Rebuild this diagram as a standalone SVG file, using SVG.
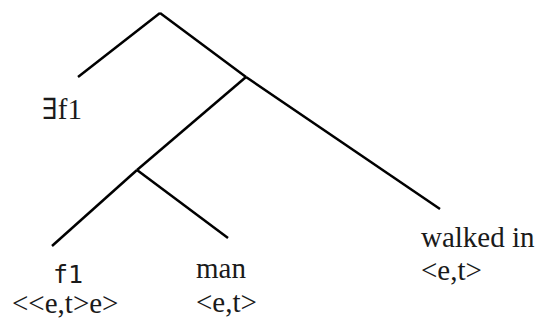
<svg xmlns="http://www.w3.org/2000/svg" width="536" height="320" viewBox="0 0 536 320">
<style>
.e{stroke:#000;stroke-width:2.5;stroke-linecap:butt;fill:none}
.t{font-family:"Liberation Serif","Times New Roman",serif;font-size:29px;fill:#1a1a1a}
.m{font-family:"DejaVu Sans Mono",monospace;font-size:25px;fill:#1a1a1a}
.x{font-family:"DejaVu Serif",serif;font-size:29px}
</style>
<rect width="536" height="320" fill="#fff"/>
<g id="connectors">
<line class="e" x1="160" y1="13" x2="78" y2="77"/>
<line class="e" x1="160" y1="13" x2="246" y2="77"/>
<line class="e" x1="246" y1="77" x2="440" y2="209"/>
<line class="e" x1="246" y1="77" x2="137" y2="170"/>
<line class="e" x1="137" y1="170" x2="52" y2="246"/>
<line class="e" x1="137" y1="170" x2="228" y2="238"/>
</g>
<g id="exists"><text class="t" x="42" y="119"><tspan class="x">∃</tspan>f1</text></g>
<g id="f1"><text class="m" x="53" y="283">f1</text><text class="t" x="12" y="313">&lt;&lt;e,t&gt;e&gt;</text></g>
<g id="man"><text class="t" x="196" y="278">man</text><text class="t" x="196" y="312">&lt;e,t&gt;</text></g>
<g id="walked"><text class="t" x="421" y="247">walked in</text><text class="t" x="421" y="280">&lt;e,t&gt;</text></g>
</svg>
